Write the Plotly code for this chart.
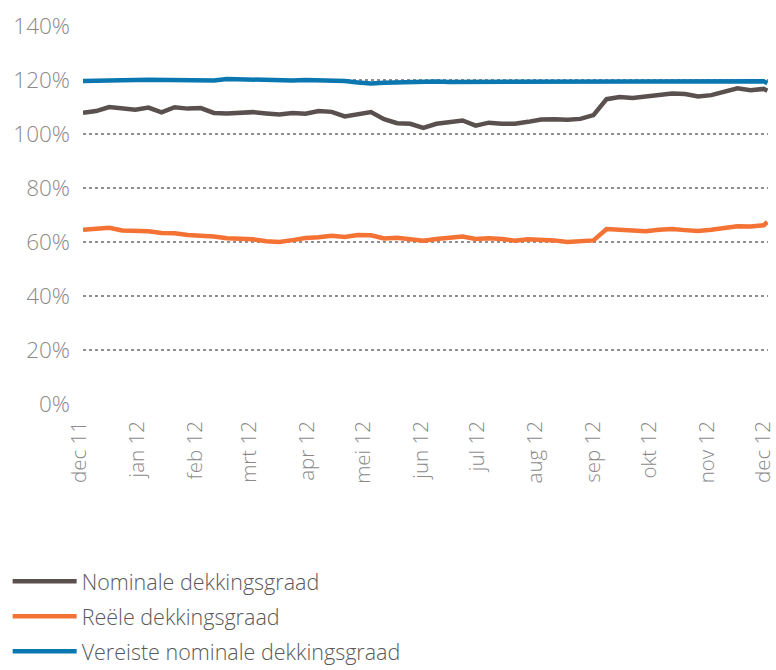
import pandas as pd
import plotly.graph_objects as go

# weekly observation dates (Dec 2011 - Dec 2012)
dates = list(pd.date_range("2011-12-01", periods=53, freq="7D")) + [pd.Timestamp("2012-12-01")]

nominale = [107.9, 108.5, 110.0, 109.3, 109.0, 109.8, 108.0, 109.9, 109.4, 109.6,
            107.8, 107.6, 107.7, 108.1, 107.6, 107.2, 107.8, 107.5, 108.5, 108.2,
            106.5, 107.2, 108.1, 105.5, 104.0, 103.8, 102.3, 103.8, 104.4, 105.0,
            103.1, 104.2, 103.8, 103.8, 104.5, 105.4, 105.5, 105.3, 105.6, 107.0,
            112.9, 113.7, 113.3, 113.8, 114.7, 115.0, 114.8, 113.9, 114.4, 115.6,
            116.9, 116.2, 116.7, 116.0]

reele = [64.5, 64.8, 65.3, 64.3, 64.3, 64.0, 63.3, 63.2, 62.6, 62.4,
         62.0, 61.4, 61.2, 61.0, 60.3, 60.0, 60.7, 61.5, 61.8, 62.3,
         61.9, 62.6, 62.5, 61.3, 61.6, 61.1, 60.5, 61.1, 61.6, 62.0,
         61.1, 61.4, 61.1, 60.5, 61.0, 61.0, 60.6, 60.0, 60.2, 60.6,
         64.8, 64.5, 64.0, 64.0, 64.5, 64.8, 64.4, 64.1, 64.5, 65.2,
         65.8, 65.7, 66.2, 67.4]

vereiste = [119.6, 119.8, 119.8, 119.9, 120.0, 120.1, 120.1, 120.0, 120.0, 119.9,
            119.8, 120.4, 120.3, 120.0, 119.7, 119.6, 119.8, 120.0, 120.0, 119.8,
            119.6, 119.1, 118.7, 119.0, 119.2, 119.3, 119.4, 119.4, 119.3, 119.3,
            119.4, 119.5, 119.4, 119.3, 119.4, 119.6, 119.5, 119.3, 119.4, 119.4,
            119.6, 119.6, 119.7, 119.6, 119.7, 119.6, 119.5, 119.6, 119.7, 119.6,
            119.6, 119.6, 119.5, 118.8]

tick_dates = ["2011-12-01", "2012-01-01", "2012-02-01", "2012-03-01", "2012-04-01",
              "2012-05-01", "2012-06-01", "2012-07-01", "2012-08-01", "2012-09-01",
              "2012-10-01", "2012-11-01", "2012-12-01"]
tick_labels = ["dec 11", "jan 12", "feb 12", "mrt 12", "apr 12", "mei 12", "jun 12",
               "jul 12", "aug 12", "sep 12", "okt 12", "nov 12", "dec 12"]
y_ticks = [0, 20, 40, 60, 80, 100, 120, 140]
y_labels = [f"{v}%" for v in y_ticks]

series = [
    ("Nominale dekkingsgraad", nominale, "#5a514f"),
    ("Reële dekkingsgraad", reele, "#f37234"),
    ("Vereiste nominale dekkingsgraad", vereiste, "#0a77b1"),
]

fig = go.Figure()
for i, (name, vals, col) in enumerate(series):
    fig.add_trace(go.Scatter(x=dates, y=vals, mode="lines", name=name,
                             legendgroup=f"g{i}",
                             line=dict(color=col, width=4.5)))

y_font = dict(family="Open Sans", size=22.5, color="#8a8a8a", weight=300)
x_font = dict(family="Open Sans", size=20.5, color="#8a8a8a", weight=300)

fig.update_layout(
    width=776, height=670,
    margin=dict(l=83, r=8, t=26, b=266, autoexpand=False),
    paper_bgcolor="white", plot_bgcolor="white",
    font=dict(family="Open Sans", color="#8a8a8a"),
    showlegend=True,
    legend=dict(orientation="v", x=-0.11, xanchor="left", y=-0.415, yanchor="top",
                font=dict(family="Open Sans", size=21.5, color="#595959", weight=300),
                itemwidth=64, tracegroupgap=4, traceorder="grouped"),
    xaxis=dict(range=["2011-12-01", "2012-12-01 08:00"], tickmode="array",
               tickvals=tick_dates, ticktext=tick_labels, tickangle=-90,
               showgrid=False, zeroline=False, showline=False, automargin=False,
               ticklabeloverflow="allow", ticklabelshift=-4,
               tickfont=x_font, ticks="", ticklabelstandoff=12),
    yaxis=dict(range=[0, 140], tickmode="array", tickvals=y_ticks, ticktext=y_labels,
               showgrid=True, gridcolor="#8f8f8f", gridwidth=1.5, griddash="dot",
               zeroline=False, showline=False, ticks="", ticklabelstandoff=12,
               automargin=False, tickfont=y_font),
)

fig.write_html("out.html")
